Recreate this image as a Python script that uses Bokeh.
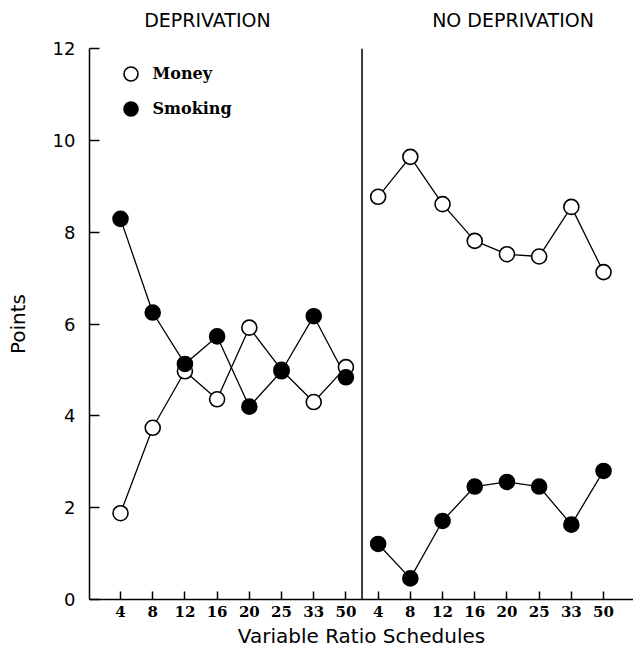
from bokeh.plotting import figure
from bokeh.models import Range1d, FixedTicker, Span, Legend, LegendItem, LinearAxis
from bokeh.embed import file_html
from bokeh.resources import INLINE

# ---- data ----
schedules = ["4", "8", "12", "16", "20", "25", "33", "50"]
money_dep = [1.88, 3.74, 4.97, 4.36, 5.92, 5.00, 4.30, 5.06]
smoking_dep = [8.29, 6.25, 5.13, 5.73, 4.20, 4.97, 6.17, 4.84]
money_nodep = [8.77, 9.64, 8.61, 7.81, 7.52, 7.47, 8.55, 7.13]
smoking_nodep = [1.21, 0.46, 1.71, 2.46, 2.56, 2.46, 1.63, 2.80]
conditions = ["DEPRIVATION", "NO DEPRIVATION"]
y_ticks = [0, 2, 4, 6, 8, 10, 12]

n = len(schedules)
x_dep = [i + 1 for i in range(n)]
x_nodep = [i + 1 + n for i in range(n)]
divider = n + 0.5
title_pos = [3.70, 13.19]

SANS = "DejaVu Sans"
SERIF = "DejaVu Serif"

p = figure(width=633, height=650,
           x_range=Range1d(0.037, 16.93), y_range=Range1d(0, 12),
           output_backend="svg", toolbar_location=None,
           min_border_left=89, min_border_top=48,
           min_border_bottom=51, min_border_right=0)
p.outline_line_color = None
p.xgrid.visible = False
p.ygrid.visible = False
p.background_fill_color = "white"
p.border_fill_color = "white"

# y axis
p.yaxis.ticker = FixedTicker(ticks=y_ticks)
p.yaxis.major_tick_in = 10
p.yaxis.major_tick_out = 0
p.yaxis.minor_tick_line_color = None
p.yaxis.major_label_standoff = 14
p.yaxis.major_label_text_font = SANS
p.yaxis.major_label_text_font_size = "18px"
p.yaxis.major_label_text_color = "black"
p.yaxis.axis_label = "Points"
p.yaxis.axis_label_text_font = SANS
p.yaxis.axis_label_text_font_size = "20px"
p.yaxis.axis_label_text_font_style = "normal"
p.yaxis.axis_label_text_color = "black"
p.yaxis.axis_label_standoff = 20
p.yaxis.axis_line_width = 1.5
p.yaxis.major_tick_line_width = 1.5

# x axis
p.xaxis.ticker = FixedTicker(ticks=x_dep + x_nodep)
p.xaxis.major_label_overrides = {x: s for x, s in zip(x_dep + x_nodep, schedules + schedules)}
p.xaxis.major_tick_in = 8
p.xaxis.major_tick_out = 0
p.xaxis.minor_tick_line_color = None
p.xaxis.major_label_standoff = 6
p.xaxis.major_label_text_font = SERIF
p.xaxis.major_label_text_font_size = "15px"
p.xaxis.major_label_text_font_style = "bold"
p.xaxis.major_label_text_color = "black"
p.xaxis.axis_label = "Variable Ratio Schedules"
p.xaxis.axis_label_text_font = SANS
p.xaxis.axis_label_text_font_size = "20px"
p.xaxis.axis_label_text_font_style = "normal"
p.xaxis.axis_label_text_color = "black"
p.xaxis.axis_label_standoff = 4
p.xaxis.axis_line_width = 1.5
p.xaxis.major_tick_line_width = 1.5

# condition titles as an invisible axis above the frame
top_axis = LinearAxis(ticker=FixedTicker(ticks=title_pos),
                      major_label_overrides={x: t for x, t in zip(title_pos, conditions)},
                      axis_line_color=None, major_tick_line_color=None,
                      minor_tick_line_color=None, major_label_standoff=12,
                      major_label_text_font=SANS, major_label_text_font_size="19px",
                      major_label_text_color="black")
p.add_layout(top_axis, "above")

# divider between conditions
p.add_layout(Span(location=divider, dimension="height", line_color="black", line_width=1.5))

# connecting lines
for xs, ys in [(x_dep, money_dep), (x_nodep, money_nodep), (x_dep, smoking_dep), (x_nodep, smoking_nodep)]:
    p.line(xs, ys, line_color="black", line_width=1.3)

# markers
r_money = p.scatter(x_dep, money_dep, marker="circle", size=15, fill_color="white",
                    line_color="black", line_width=1.6)
p.scatter(x_nodep, money_nodep, marker="circle", size=15, fill_color="white",
          line_color="black", line_width=1.6)
r_smoke = p.scatter(x_dep, smoking_dep, marker="circle", size=15, fill_color="black",
                    line_color="black", line_width=1.6)
p.scatter(x_nodep, smoking_nodep, marker="circle", size=15, fill_color="black",
          line_color="black", line_width=1.6)

legend = Legend(items=[LegendItem(label="Money", renderers=[r_money]),
                       LegendItem(label="Smoking", renderers=[r_smoke])],
                location=(23.5, 473.5), orientation="vertical",
                padding=0, spacing=0, margin=0,
                glyph_width=35, glyph_height=35, label_standoff=5,
                label_text_font=SERIF, label_text_font_size="16px",
                label_text_font_style="bold", label_text_color="black",
                border_line_color=None, background_fill_alpha=0)
p.add_layout(legend)

open("out.html", "w").write(file_html(p, INLINE))
